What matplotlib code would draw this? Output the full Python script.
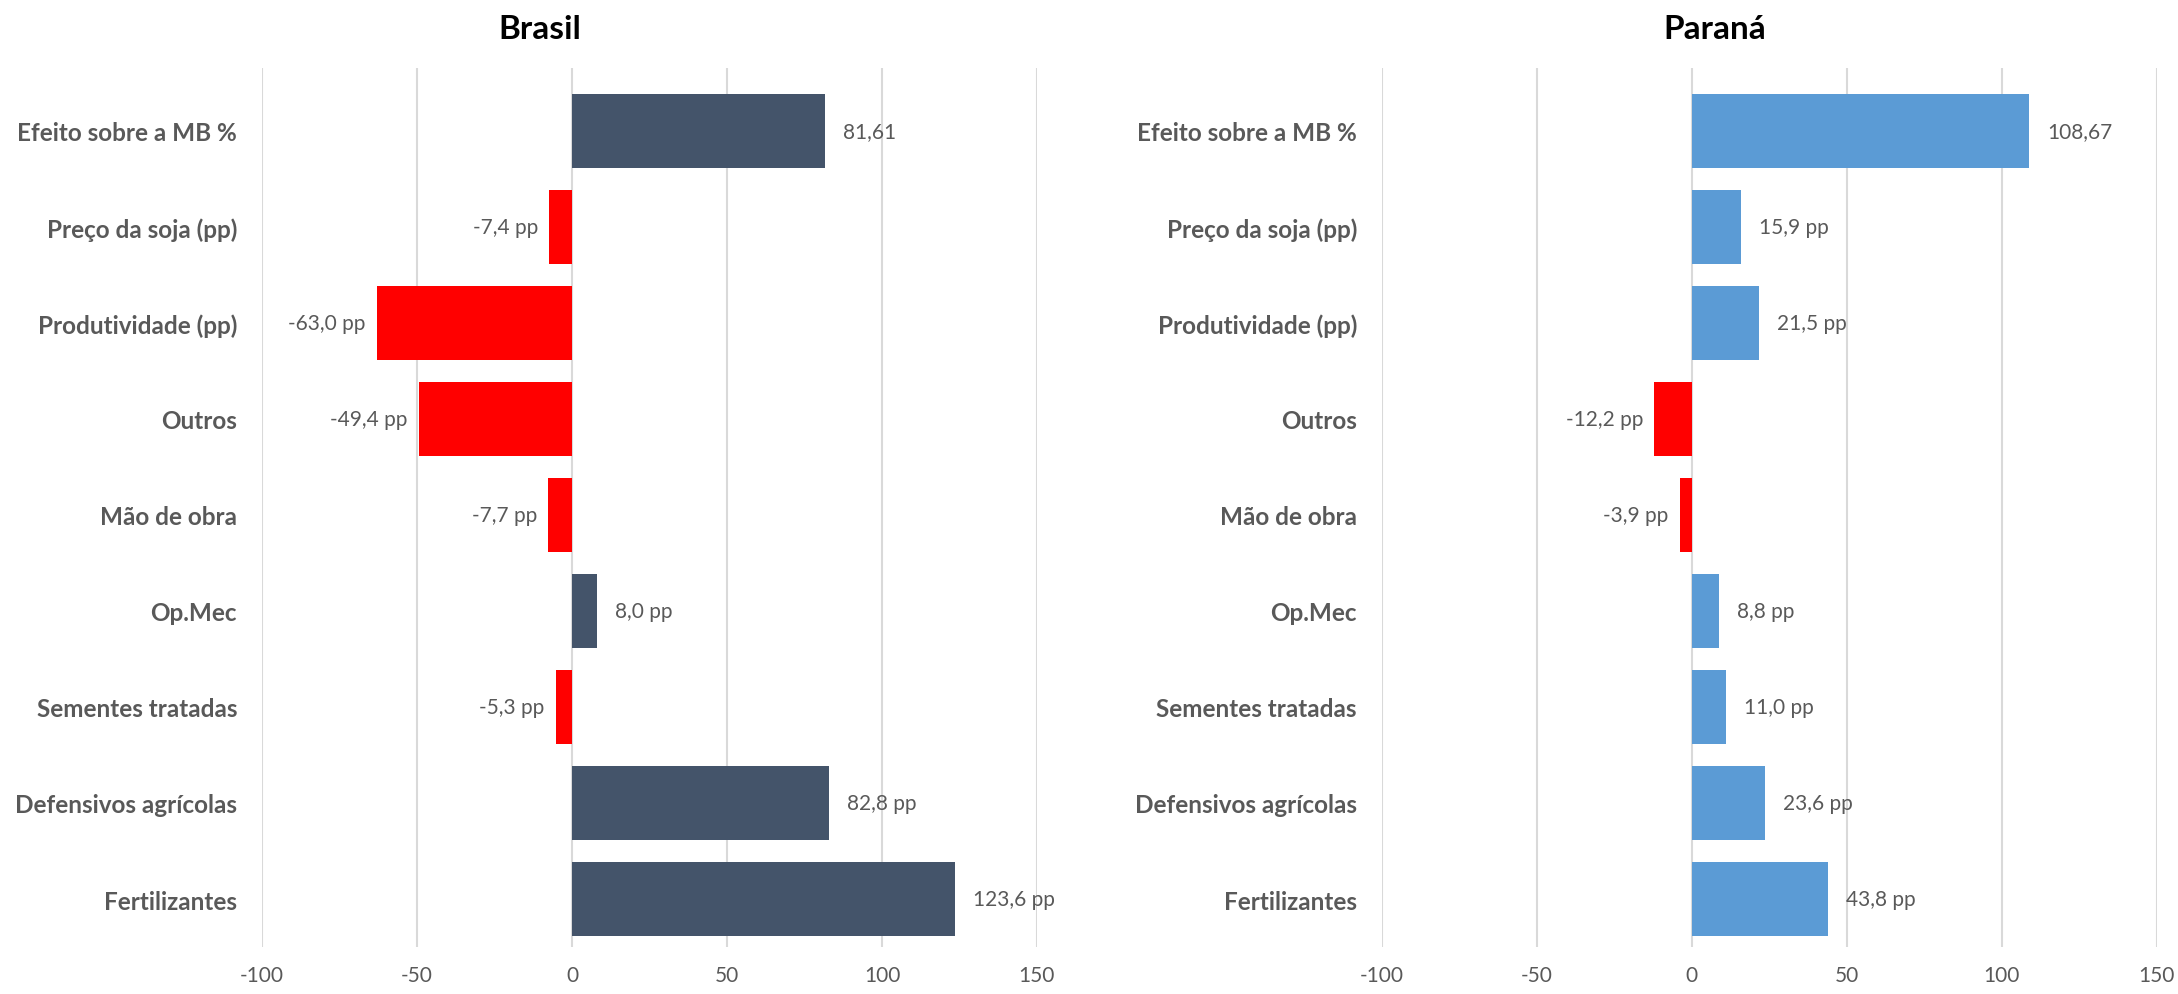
import matplotlib
matplotlib.use("Agg")
import matplotlib.pyplot as plt

plt.rcParams["font.family"] = ["Lato", "DejaVu Sans"]

categories = [
    "Efeito sobre a MB %",
    "Preço da soja (pp)",
    "Produtividade (pp)",
    "Outros",
    "Mão de obra",
    "Op.Mec",
    "Sementes tratadas",
    "Defensivos agrícolas",
    "Fertilizantes",
]
brasil = [81.61, -7.4, -63.0, -49.4, -7.7, 8.0, -5.3, 82.8, 123.6]
parana = [108.67, 15.9, 21.5, -12.2, -3.9, 8.8, 11.0, 23.6, 43.8]
xticks = [-100, -50, 0, 50, 100, 150]

GREY = "#595959"
RED = "#FF0000"


def fmt(v, i):
    if i == 0:
        return f"{v:.2f}".replace(".", ",")
    return f"{v:.1f}".replace(".", ",") + " pp"


def draw(ax, values, pos_color):
    y = list(range(len(categories)))
    colors = [pos_color if v >= 0 else RED for v in values]
    ax.barh(y, values, height=0.77, color=colors, zorder=3)
    for i, v in enumerate(values):
        ax.annotate(fmt(v, i), (v, i), xytext=(13 if v >= 0 else -8, 0),
                    textcoords="offset points", ha="left" if v >= 0 else "right",
                    va="center", fontsize=15, color=GREY)
    ax.set_ylim(len(categories) - 0.5, -0.65)
    ax.set_xlim(-100, 150)
    ax.set_xticks(xticks)
    ax.set_xticklabels([str(t) for t in xticks])
    ax.set_yticks(y)
    ax.set_yticklabels(categories, fontweight="bold")
    ax.tick_params(axis="y", length=0, pad=18, labelsize=17.5, labelcolor=GREY)
    ax.tick_params(axis="x", length=0, pad=13, labelsize=15, labelcolor=GREY)
    ax.grid(axis="x", color="#D9D9D9", linewidth=1.5, zorder=0)
    for s in ax.spines.values():
        s.set_visible(False)


fig = plt.figure(figsize=(21.78, 9.95), dpi=100)
ax1 = fig.add_axes([0.1203, 0.0472, 0.3558, 0.8831])
ax2 = fig.add_axes([0.6345, 0.0472, 0.3558, 0.8831])
draw(ax1, brasil, "#44546A")
draw(ax2, parana, "#5B9BD5")

fig.text(540 / 2178, 0.970, "Brasil", ha="center", va="center",
         fontsize=24, fontweight="bold", color="black")
fig.text(1715 / 2178, 0.970, "Paraná", ha="center", va="center",
         fontsize=24, fontweight="bold", color="black")

fig.savefig("out.png", dpi=100)
